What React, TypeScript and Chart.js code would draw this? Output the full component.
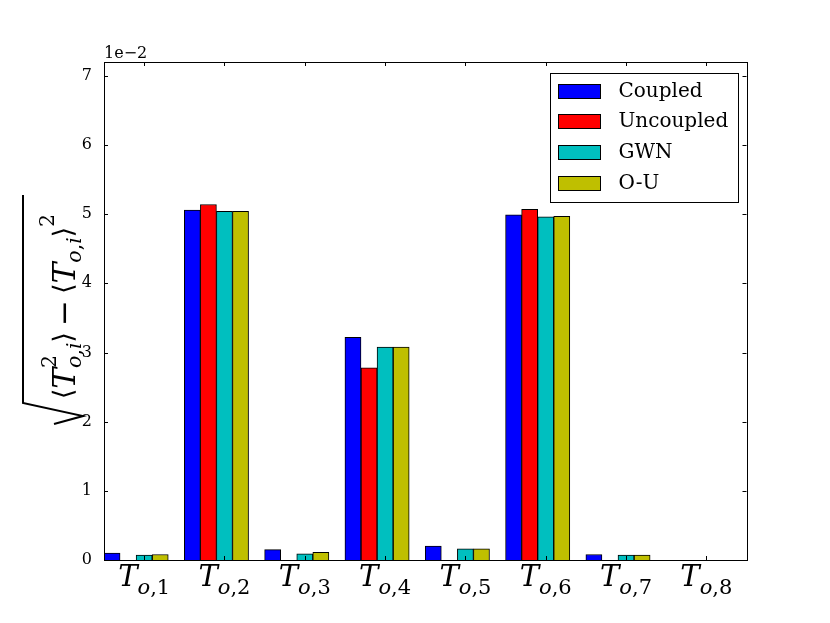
import { useEffect, useRef } from 'react';
import { Chart, registerables, type Plugin } from 'chart.js';

Chart.register(...registerables);

// subscript index of each T_{o,i} category
const categories = ['1', '2', '3', '4', '5', '6', '7', '8'];

// values in units of 1e-2
const coupled = [0.10, 5.06, 0.15, 3.22, 0.20, 4.99, 0.08, 0];
const uncoupled = [0, 5.14, 0, 2.78, 0, 5.07, 0, 0];
const gwn = [0.07, 5.04, 0.09, 3.08, 0.16, 4.96, 0.07, 0];
const ou = [0.08, 5.04, 0.11, 3.08, 0.16, 4.97, 0.07, 0];

const seriesNames = ['Coupled', 'Uncoupled', 'GWN', 'O-U'];
const seriesColors = ['#0000ff', '#ff0000', '#00bfbf', '#bfbf00'];
const yTicks = [0, 1, 2, 3, 4, 5, 6, 7];
const yMax = 7.2;
const offsetText = '1e\u22122';

const it = (px: number) => `italic ${px}px "DejaVu Serif"`;
const rm = (px: number) => `${px}px "DejaVu Serif"`;
const sym = (px: number) => `${px}px "DejaVu Sans"`;

type Run = { text: string; font: string; dy: number };
type Item = Run | { sup: Run[]; sub: Run[] };

function runsWidth(ctx: CanvasRenderingContext2D, runs: Run[]) {
  return runs.reduce((w, r) => {
    ctx.font = r.font;
    return w + ctx.measureText(r.text).width;
  }, 0);
}

function itemsWidth(ctx: CanvasRenderingContext2D, items: Item[]) {
  return items.reduce((w, item) => {
    if ('sup' in item) return w + Math.max(runsWidth(ctx, item.sup), runsWidth(ctx, item.sub));
    return w + runsWidth(ctx, [item]);
  }, 0);
}

function drawRuns(ctx: CanvasRenderingContext2D, runs: Run[], x: number, y: number) {
  for (const r of runs) {
    ctx.font = r.font;
    ctx.fillText(r.text, x, y + r.dy);
    x += ctx.measureText(r.text).width;
  }
  return x;
}

function drawItems(ctx: CanvasRenderingContext2D, items: Item[], x: number, y: number) {
  for (const item of items) {
    if ('sup' in item) {
      const w = Math.max(runsWidth(ctx, item.sup), runsWidth(ctx, item.sub));
      drawRuns(ctx, item.sup, x, y);
      drawRuns(ctx, item.sub, x, y);
      x += w;
    } else {
      x = drawRuns(ctx, [item], x, y);
    }
  }
}

const S = 32;
const s = 21;
const B = 27;
const subOI = (): Run[] => [
  { text: 'o', font: it(s), dy: 6 },
  { text: ',', font: rm(s), dy: 6 },
  { text: 'i', font: it(s), dy: 6 },
];
const yLabel: Item[] = [
  { text: '\u27e8', font: sym(B), dy: -3 },
  { text: 'T', font: it(S), dy: 0 },
  { sup: [{ text: '2', font: rm(s), dy: -19 }], sub: subOI() },
  { text: '\u27e9', font: sym(B), dy: -3 },
  { text: '\u2009\u2212\u2009', font: rm(S), dy: 0 },
  { text: '\u27e8', font: sym(B), dy: -3 },
  { text: 'T', font: it(S), dy: 0 },
  { sup: [], sub: subOI() },
  { text: '\u27e9', font: sym(B), dy: -3 },
  { sup: [{ text: '2', font: rm(s), dy: -21 }], sub: [] },
];

const xLabel = (idx: string): Item[] => [
  { text: 'T', font: it(29), dy: 0 },
  {
    sup: [],
    sub: [
      { text: 'o', font: it(21), dy: 8 },
      { text: ',', font: rm(21), dy: 8 },
      { text: idx, font: rm(21), dy: 8 },
    ],
  },
];

const decorations: Plugin<'bar'> = {
  id: 'decorations',
  afterDatasetsDraw(chart) {
    const { ctx, chartArea: a } = chart;
    const x = chart.scales.x;
    const y = chart.scales.y;
    ctx.save();
    ctx.strokeStyle = '#000';
    ctx.fillStyle = '#000';
    ctx.lineWidth = 1;

    // ticks pointing inwards, on all four sides
    ctx.beginPath();
    yTicks.forEach((v) => {
      const py = Math.round(y.getPixelForValue(v)) + 0.5;
      ctx.moveTo(a.left, py);
      ctx.lineTo(a.left + 4, py);
      ctx.moveTo(a.right, py);
      ctx.lineTo(a.right - 4, py);
    });
    categories.forEach((_, i) => {
      const px = Math.round(x.getPixelForTick(i)) + 0.5;
      ctx.moveTo(px, a.bottom);
      ctx.lineTo(px, a.bottom - 4);
      ctx.moveTo(px, a.top);
      ctx.lineTo(px, a.top + 4);
    });
    ctx.stroke();

    // frame
    ctx.strokeRect(Math.round(a.left) + 0.5, Math.round(a.top) + 0.5, Math.round(a.right - a.left), Math.round(a.bottom - a.top));

    // x tick labels T_{o,i}
    ctx.textAlign = 'left';
    ctx.textBaseline = 'alphabetic';
    categories.forEach((c, i) => {
      const items = xLabel(c);
      const w = itemsWidth(ctx, items);
      drawItems(ctx, items, x.getPixelForTick(i) - w / 2, a.bottom + 26);
    });

    // offset text
    ctx.font = rm(16);
    ctx.fillText(offsetText, a.left, a.top - 4);

    // y label, rotated, with a radical sign
    const labelLen = 185;
    const w = itemsWidth(ctx, yLabel);
    ctx.save();
    ctx.translate(75, 399);
    ctx.rotate(-Math.PI / 2);
    ctx.scale(labelLen / w, 1);
    drawItems(ctx, yLabel, 0, 0);
    ctx.restore();
    ctx.lineWidth = 2;
    ctx.beginPath();
    ctx.moveTo(23, 195);
    ctx.lineTo(23, 403);
    ctx.lineTo(83, 416);
    ctx.lineTo(54, 424);
    ctx.stroke();

    // legend
    ctx.lineWidth = 1;
    const lx = Math.round(a.right - 197) + 0.5;
    const ly = Math.round(a.top + 11) + 0.5;
    ctx.fillStyle = '#fff';
    ctx.fillRect(lx, ly, 188, 129);
    ctx.strokeRect(lx, ly, 188, 129);
    ctx.textBaseline = 'middle';
    ctx.font = rm(20);
    seriesNames.forEach((name, i) => {
      const cy = ly + 17 + i * 30.7;
      ctx.fillStyle = seriesColors[i];
      ctx.fillRect(lx + 8, Math.round(cy - 7) + 0.5, 42, 14);
      ctx.strokeRect(lx + 8, Math.round(cy - 7) + 0.5, 42, 14);
      ctx.fillStyle = '#000';
      ctx.fillText(name, lx + 68, cy + 1);
    });
    ctx.restore();
  },
};

export default function App() {
  const canvasRef = useRef<HTMLCanvasElement | null>(null);

  useEffect(() => {
    if (!canvasRef.current) return;
    const seriesData = [coupled, uncoupled, gwn, ou];
    const chart = new Chart(canvasRef.current, {
      type: 'bar',
      data: {
        labels: categories,
        datasets: [
          ...seriesData.map((d, i) => ({
            label: seriesNames[i],
            data: d,
            backgroundColor: seriesColors[i],
            borderColor: '#000',
            borderWidth: 1,
            barPercentage: 1,
            categoryPercentage: 1,
          })),
          // empty fifth slot: matplotlib leaves a gap after each group of four
          {
            label: '',
            data: categories.map(() => null),
            backgroundColor: 'rgba(0,0,0,0)',
            borderWidth: 0,
            barPercentage: 1,
            categoryPercentage: 1,
          },
        ],
      },
      options: {
        responsive: false,
        animation: false,
        layout: { padding: { top: 62, right: 83.5, left: 0, bottom: 0 } },
        plugins: { legend: { display: false }, tooltip: { enabled: false } },
        scales: {
          x: {
            type: 'category',
            offset: true,
            grid: { display: false },
            border: { display: false },
            ticks: { display: false },
            afterFit: (scale) => {
              scale.height = 63;
            },
          },
          y: {
            min: 0,
            max: yMax,
            grid: { display: false },
            border: { display: false },
            ticks: { color: '#000', font: { family: 'DejaVu Serif', size: 16 }, padding: 4 },
            afterBuildTicks: (scale) => {
              scale.ticks = yTicks.map((v) => ({ value: v }));
            },
            afterFit: (scale) => {
              scale.width = 104;
            },
          },
        },
      },
      plugins: [decorations],
    });
    return () => chart.destroy();
  }, []);

  return (
    <div style={{ position: 'fixed', left: 0, top: 0, width: 830, height: 623, background: '#fff' }}>
      <canvas ref={canvasRef} width={830} height={623} />
    </div>
  );
}
